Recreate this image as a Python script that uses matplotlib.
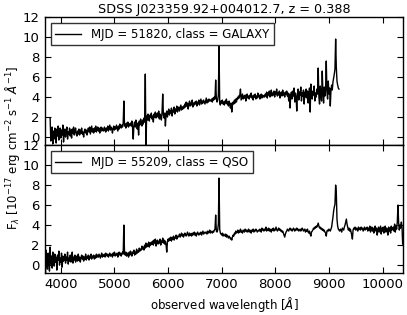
import numpy as np
import matplotlib
matplotlib.use("Agg")
import matplotlib.pyplot as plt
from matplotlib.ticker import NullFormatter, MultipleLocator

title = "SDSS J023359.92+004012.7, z = 0.388"
labels = ["MJD = 51820, class = GALAXY", "MJD = 55209, class = QSO"]
xticks = [4000, 5000, 6000, 7000, 8000, 9000, 10000]

# top spectrum (GALAXY): sampled every 12.5 A from 3800 A
wl_start_top, wl_step = 3800.0, 12.5
flux_top = [
    1.9, -0.4, 0.2, 1.0, -0.7, 0.6, -0.2, 0.9, 0.3, -0.6, 0.8, 0.1, 1.1, -0.3, 0.5, 0.9, -0.1, 0.7, 0.2, 1.2,
    -0.5, 0.4, 0.8, 0.0, 0.6, 1.0, -0.2, 0.5, 0.3, 0.9, 0.1, 0.7, -0.1, 0.8, 0.4, 1.0, 0.2, 0.6, 0.9, 0.3,
    0.1, 0.6, 0.3, 0.8, 0.2, 0.7, 0.4, 0.9, 0.3, 0.5, 0.0, 0.6, 0.8, 0.4, 0.7, 0.2, 0.6, 0.9, 0.5, 1.0,
    0.3, 0.7, 1.1, 0.5, 0.8, 0.4, 0.9, 0.6, 1.1, 0.5, 0.8, 1.0, 0.6, 0.9, 0.4, 0.8, 1.0, 0.6, 0.9, 0.7,
    0.6, 1.0, 0.8, 0.5, 0.9, 0.7, 1.1, 0.6, 0.9, 1.2, 0.7, 1.0, 0.8, 0.4, 0.9, 1.1, 0.7, 1.0, 0.8, 1.2,
    0.9, 0.6, 1.1, 0.8, 1.3, 1.0, 0.9, 1.2, 1.0, 1.4, 3.6, 1.1, 1.3, 0.9, 1.4, 1.1, 1.5, 1.0, 1.3, 1.2,
    1.4, 1.1, 1.6, 0.9, -0.2, 1.2, 1.5, 1.0, 1.7, 1.3, 0.8, 1.4, 0.2, 1.6, 1.2, 1.8, 1.4, 1.1, 1.7, 1.3,
    1.9, 1.5, 6.3, -1.0, 2.1, 1.7, 2.3, 1.9, 1.6, 2.2, 2.0, 2.4, 1.8, 2.1, 1.5, 2.3, 2.0, 2.5, 1.9, 2.2,
    2.4, 2.0, 2.6, 1.8, 2.3, 2.1, 1.7, 2.5, 4.3, 2.2, 1.9, 2.4, 1.1, 2.3, 2.6, 2.0, 2.5, 2.8, 2.2, 2.6,
    2.4, 2.9, 2.1, 2.7, 2.5, 3.0, 2.3, 2.8, 2.6, 3.1, 2.5, 2.8, 3.0, 2.6, 2.9, 3.2, 2.7, 3.0, 2.8, 3.1,
    2.9, 3.3, 3.0, 3.5, 3.1, 3.4, 2.8, 3.3, 3.6, 3.1, 3.4, 3.2, 3.7, 3.0, 3.4, 3.2, 3.5, 3.3, 3.6, 3.1,
    3.5, 3.3, 3.7, 3.2, 3.5, 3.8, 3.3, 3.6, 3.4, 3.7, 3.5, 3.3, 3.6, 3.9, 3.4, 3.7, 3.5, 3.8, 3.6, 3.7,
    3.6, 3.8, 3.5, 3.9, 3.7, 4.0, 3.8, 5.7, 3.9, 3.5, 3.7, 4.2, 9.1, 3.4, 3.2, 3.6, 3.4, 3.7, 3.3, 3.5,
    3.2, 3.6, 3.4, 3.8, 3.3, 3.5, 3.1, 3.6, 3.3, 2.9, 3.4, 2.5, 3.2, 3.5, 3.3, 3.7, 3.4, 3.8, 3.5, 3.9,
    3.8, 4.1, 3.9, 4.2, 4.8, 3.7, 4.0, 4.3, 3.8, 4.1, 3.9, 4.2, 3.6, 4.0, 4.3, 3.9, 4.1, 3.8, 4.2, 4.0,
    4.4, 3.9, 4.1, 3.7, 4.2, 4.0, 4.3, 3.8, 4.1, 3.9, 4.4, 4.0, 4.2, 3.8, 4.1, 4.3, 3.9, 4.2, 4.0, 4.1,
    4.0, 4.3, 4.1, 4.5, 3.9, 4.4, 4.2, 4.6, 4.0, 4.3, 4.7, 4.1, 4.4, 4.2, 4.6, 4.0, 4.5, 4.3, 4.8, 4.1,
    4.4, 4.2, 4.6, 3.9, 4.3, 4.5, 4.1, 4.7, 4.2, 4.4, 4.0, 4.5, 4.3, 4.6, 4.1, 4.4, 3.6, 4.3, 2.9, 4.2,
    4.5, 3.8, 4.6, 4.1, 4.9, 3.5, 4.4, 4.0, 2.6, 4.3, 4.8, 3.7, 4.5, 4.2, 5.0, 3.6, 4.4, 4.1, 4.7, 3.3,
    4.5, 4.0, 4.8, 3.9, 4.6, 3.4, 4.3, 4.9, 2.5, 5.3, 4.1, 3.8, 4.6, 4.2, 5.1, 3.6, 4.4, 4.0, 4.8, 4.3,
    6.9, 4.0, 3.3, 5.1, 4.2, 3.6, 6.6, 4.4, 3.4, 5.0, 4.1, 4.8, 7.6, 4.5, 3.8, 5.6, 4.3, 4.9, 3.1, 4.6,
    5.2, 4.7, 5.5, 5.9, 6.3, 6.8, 9.8, 7.0, 5.6, 5.2, 4.9, 4.8,
]

# bottom spectrum (QSO): sampled every 12.5 A from 3700 A
wl_start_bot = 3700.0
flux_bot = [
    2.2, -0.8, 1.5, 0.2, -0.4, 1.2, 0.6, -0.6, 1.8, 0.1, 0.9, -0.3, 1.3, 0.4, -0.1, 1.1, 0.3, 0.8, -0.5, 1.0,
    0.5, 1.4, 0.0, 0.7, 0.3, 1.2, -0.2, 0.9, 0.4, 0.6, 1.1, 0.2, 0.8, 0.5, 1.3, 0.1, 0.7, 0.4, 1.0, 0.3,
    0.6, 1.3, 0.2, 0.8, 0.5, 1.0, 0.3, 0.7, 0.9, 0.4, 1.1, 0.5, 0.8, 0.3, 0.7, 1.0, 0.6, 0.9, 0.4, 0.8,
    0.6, 1.1, 0.5, 0.8, 0.7, 1.0, 0.5, 0.9, 0.7, 1.1, 0.6, 0.9, 0.8, 1.0, 0.6, 0.9, 0.7, 1.1, 0.8, 1.0,
    0.8, 1.1, 0.9, 0.7, 1.0, 1.2, 0.8, 1.0, 0.9, 1.1, 0.8, 1.2, 1.0, 0.9, 1.1, 0.8, 1.0, 1.2, 0.9, 1.1,
    1.0, 0.8, 1.2, 1.0, 1.3, 0.9, 1.1, 1.0, 1.2, 0.8, 1.1, 1.3, 1.0, 1.2, 0.9, 1.1, 1.3, 1.1, 4.0, 1.2,
    1.0, 1.3, 0.9, 1.2, 1.1, 0.8, 1.3, 1.0, 1.4, 1.1, 0.9, 1.3, 1.2, 1.5, 1.0, 1.3, 1.1, 1.6, 1.2, 1.4,
    1.3, 1.7, 1.4, 1.6, 1.5, 1.9, 1.6, 1.8, 1.5, 2.0, 1.7, 2.2, 1.8, 2.1, 1.9, 2.3, 1.8, 2.2, 2.0, 2.3,
    2.1, 2.4, 2.0, 2.5, 2.2, 2.6, 1.9, 2.3, 2.5, 2.1, 2.4, 2.2, 2.6, 2.0, 2.4, 2.3, 2.7, 2.2, 2.5, 2.1,
    2.4, 2.0, 1.3, 2.3, 2.6, 2.4, 2.7, 2.5, 2.8, 2.4, 2.7, 2.6, 2.9, 2.5, 2.8, 2.7, 3.0, 2.6, 2.9, 2.8,
    2.9, 3.1, 2.8, 3.0, 3.2, 2.9, 3.1, 2.8, 3.0, 3.2, 3.0, 2.9, 3.1, 3.3, 3.0, 2.9, 3.2, 3.0, 3.1, 2.9,
    3.2, 3.0, 3.1, 3.3, 3.0, 3.2, 2.9, 3.1, 3.3, 3.1, 3.0, 3.2, 3.1, 3.3, 3.0, 3.2, 3.4, 3.1, 3.2, 3.3,
    3.2, 3.3, 3.1, 3.4, 3.2, 3.3, 3.5, 3.2, 3.4, 3.3, 3.2, 3.4, 3.3, 3.5, 3.6, 5.0, 3.4, 3.3, 3.5, 4.1,
    8.7, 3.6, 3.2, 3.1, 3.0, 3.2, 2.9, 3.1, 3.0, 2.9, 3.1, 2.8, 3.0, 2.9, 2.7, 2.9, 2.8, 2.6, 2.7, 2.5,
    2.8, 3.0, 2.9, 3.2, 3.1, 3.4, 3.2, 3.3, 3.5, 3.2, 3.4, 3.3, 3.6, 3.3, 3.4, 3.2, 3.5, 3.4, 3.3, 3.6,
    3.4, 3.5, 3.3, 3.4, 3.6, 3.3, 3.5, 3.4, 3.2, 3.5, 3.4, 3.6, 3.3, 3.5, 3.4, 3.6, 3.5, 3.3, 3.4, 3.5,
    3.4, 3.6, 3.5, 3.3, 3.7, 3.5, 3.6, 3.4, 3.6, 3.5, 3.8, 3.4, 3.6, 3.5, 3.7, 3.4, 3.6, 3.5, 3.3, 3.6,
    3.5, 3.7, 3.4, 3.6, 3.5, 3.8, 3.6, 3.4, 3.5, 3.7, 3.5, 3.6, 3.4, 3.5, 3.3, 3.4, 3.2, 3.0, 2.8, 3.1,
    3.3, 3.4, 3.6, 3.5, 3.4, 3.6, 3.7, 3.5, 3.6, 3.4, 3.5, 3.7, 3.6, 3.4, 3.6, 3.5, 3.7, 3.5, 3.6, 3.4,
    3.5, 3.6, 3.4, 3.5, 3.7, 3.6, 3.4, 3.5, 3.6, 3.3, 3.5, 3.4, 3.6, 3.3, 3.2, 3.4, 3.1, 2.9, 3.3, 3.4,
    3.5, 3.7, 3.6, 3.8, 3.7, 3.9, 3.8, 4.0, 4.2, 3.9, 3.7, 3.8, 3.6, 3.7, 3.5, 3.6, 3.4, 3.5, 3.3, 3.2,
    2.9, 3.4, 3.5, 3.4, 3.6, 3.5, 3.4, 3.6, 3.8, 4.3, 4.8, 5.4, 5.8, 6.1, 8.0, 7.2, 4.6, 3.9, 3.6, 3.5,
    3.4, 3.6, 3.5, 3.3, 3.7, 3.6, 3.5, 3.8, 4.0, 4.3, 4.6, 4.1, 3.8, 3.5, 3.7, 3.4, 3.6, 3.3, 3.0, 2.6,
    3.5, 3.7, 3.6, 3.8, 3.5, 3.7, 3.6, 3.4, 3.8, 3.6, 3.7, 3.5, 3.8, 3.6, 3.7, 3.4, 3.6, 3.8, 3.5, 3.7,
    3.6, 3.8, 3.4, 3.7, 3.5, 3.9, 3.3, 3.6, 3.8, 3.4, 3.7, 3.2, 3.6, 3.9, 3.4, 3.7, 3.0, 3.5, 3.8, 3.3,
    3.6, 3.9, 3.1, 3.7, 3.4, 3.8, 3.2, 3.6, 3.9, 3.3, 3.7, 3.5, 3.0, 3.8, 3.4, 3.7, 3.2, 3.9, 3.5, 3.6,
    3.8, 3.4, 4.1, 3.3, 3.9, 3.6, 4.3, 6.0, 4.2, 3.5, 4.0, 3.7, 4.3, 3.9, 2.1,
]

wl_top = wl_start_top + wl_step * np.arange(len(flux_top))
wl_bot = wl_start_bot + wl_step * np.arange(len(flux_bot))

plt.rcParams.update({
    "font.family": ["DejaVu Sans"],
    "font.size": 9,
    "xtick.direction": "in",
    "ytick.direction": "in",
    "xtick.top": True,
    "ytick.right": True,
    "xtick.major.size": 4,
    "ytick.major.size": 4,
    "xtick.labelsize": 9.5,
    "ytick.labelsize": 9.5,
    "axes.linewidth": 1.0,
})

fig = plt.figure(figsize=(4.07, 3.15), dpi=100)
fig.subplots_adjust(left=0.110, right=0.990, top=0.946, bottom=0.133, hspace=0.0)
ax1 = fig.add_subplot(211)
ax2 = fig.add_subplot(212)

for ax, wl, fl, lab in [(ax1, wl_top, flux_top, labels[0]), (ax2, wl_bot, flux_bot, labels[1])]:
    ax.plot(wl, fl, "-k", lw=1.0, label=lab)
    ax.set_xlim(3700, 10380)
    ax.set_ylim(-0.8, 12)
    ax.yaxis.set_major_locator(MultipleLocator(2))
    ax.set_xticks(xticks)
    leg = ax.legend(loc="upper left", fancybox=False, frameon=True, fontsize=8.5,
                    borderpad=0.4, handlelength=2.2, borderaxespad=0.5)
    leg.get_frame().set_edgecolor("k")
    leg.get_frame().set_linewidth(1.0)

ax1.xaxis.set_major_formatter(NullFormatter())
ax1.set_title(title, fontsize=9.2, pad=3)
ax2.set_xlabel(r"observed wavelength [$\AA$]", fontsize=8.5, labelpad=3)
fig.text(0.03, 0.53, r"F$_\lambda$ [$10^{-17}$ erg cm$^{-2}$ s$^{-1}$ $\AA^{-1}$]",
         rotation=90, ha="center", va="center", fontsize=8.5)

fig.savefig("out.png", dpi=100, facecolor="white")
